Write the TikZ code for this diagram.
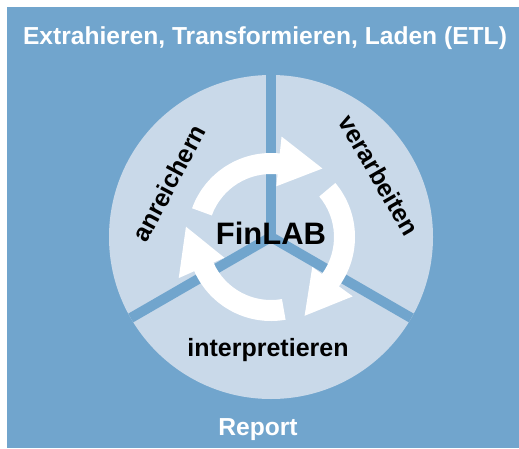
\documentclass[tikz,border=0pt]{standalone}
\usepackage{fontspec}
\setmainfont{Liberation Sans}
\usetikzlibrary{calc}
\definecolor{bgblue}{HTML}{71A5CD}
\definecolor{lightblue}{HTML}{C9D9E9}
\begin{document}
\begin{tikzpicture}[x=1pt,y=1pt,
  lbl/.style={font=\bfseries\fontsize{25}{30}\selectfont, text=black, inner sep=0pt},
  ttl/.style={font=\bfseries\fontsize{24.6}{29}\selectfont, text=white, inner sep=0pt},
  spoke/.style={draw=bgblue, line width=10pt},
  cyc/.style={fill=white, draw=none}]
\useasboundingbox (0,0) rectangle (519,448);
\fill[bgblue] (7,0) rectangle (519,441);
\coordinate (c) at (271,211);
\fill[lightblue] (c) circle (162);
\foreach \a in {90,210,330}
  \draw[spoke] (c) -- ($(c)+(\a:162)$);
\foreach \t/\b in {160/84,40/-36,280/204}
  \fill[cyc] ($(c)+(\t:84)$) arc[start angle=\t, end angle=\b, radius=84]
    -- ($(c)+(\b:101)$)
    -- ($(c)+(\b:73.5)+({\b-90}:44)$)
    -- ($(c)+(\b:51)$)
    -- ($(c)+(\b:63)$)
    arc[start angle=\b, end angle=\t, radius=63] -- cycle;
\node[ttl, anchor=base] (title) at (265,403) {Extrahieren, Transformieren, Laden (ETL)};
\node[ttl, anchor=base] (report) at (258,13) {Report};
\node[lbl, font=\bfseries\fontsize{31}{36}\selectfont, anchor=base] (finlab) at (271,204) {FinLAB};
\node[lbl, anchor=base] (interp) at (268,92) {interpretieren};
\node[lbl, rotate=62] (anr) at (169,265) {anreichern};
\node[lbl, rotate=-60] (verarb) at (379,273) {verarbeiten};
\end{tikzpicture}
\end{document}
